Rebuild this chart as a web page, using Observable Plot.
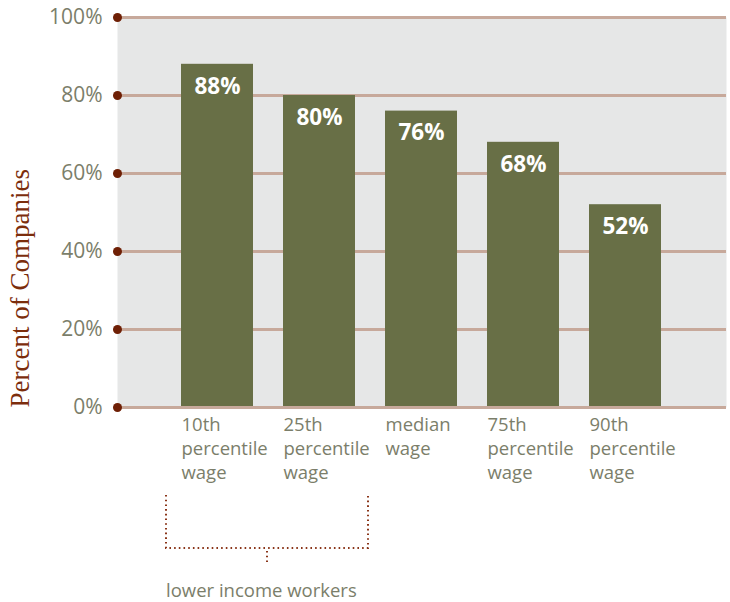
<!DOCTYPE html>
<html>
<head>
<meta charset="utf-8">
<script src="https://cdn.jsdelivr.net/npm/d3@7"></script>
<script src="https://cdn.jsdelivr.net/npm/@observablehq/plot@0.6"></script>
<style>
  html, body { margin: 0; padding: 0; background: #ffffff; }
  #chart svg { display: block; }
</style>
</head>
<body>
<div id="chart"></div>
<script>
const categories = ["10th percentile wage", "25th percentile wage", "median wage", "75th percentile wage", "90th percentile wage"];
const categoryLabels = ["10th\npercentile\nwage", "25th\npercentile\nwage", "median\nwage", "75th\npercentile\nwage", "90th\npercentile\nwage"];
const values = [88, 80, 76, 68, 52];
const yTicks = [0, 20, 40, 60, 80, 100];
const yTitle = "Percent of Companies";
const bracketLabel = "lower income workers";
const bracketCategories = ["10th percentile wage", "25th percentile wage"];

const data = categories.map((c, i) => ({category: c, value: values[i]}));
const labelOf = new Map(categories.map((c, i) => [c, categoryLabels[i]]));

const sans = "'Open Sans', Lato, sans-serif";
const tickColor = "#7b7e6a";
const barColor = "#686f46";
const gridColor = "#c7a99b";
const dotColor = "#6e1f05";

const plot = Plot.plot({
  width: 730,
  height: 602,
  marginTop: 17,
  marginBottom: 195,
  marginLeft: 117,
  marginRight: 4,
  style: {fontFamily: sans, background: "#ffffff"},
  x: {domain: categories, paddingInner: 0.29, paddingOuter: 0.61, align: 0.5},
  y: {domain: [0, 100]},
  marks: [
    Plot.frame({fill: "#e6e7e7", stroke: null}),
    Plot.ruleY(yTicks, {stroke: gridColor, strokeWidth: 3}),
    Plot.barY(data, {x: "category", y: "value", fill: barColor}),
    Plot.ruleY([0], {stroke: gridColor, strokeWidth: 3}),
    Plot.text(data, {x: "category", y: "value", text: d => d.value + "%", dy: 22, fill: "#ffffff", fontWeight: "bold", fontSize: 22.5, fontFamily: sans}),
    Plot.dot(yTicks, {y: d => d, frameAnchor: "left", r: 4.5, fill: dotColor, stroke: null}),
    Plot.axisY({ticks: yTicks, tickSize: 0, tickPadding: 15, tickFormat: d => d + "%", fontSize: 21, fill: tickColor, label: null}),
    Plot.axisX({tickSize: 0, tickPadding: 6, tickFormat: d => labelOf.get(d), fontSize: 18.5, fill: tickColor, textAnchor: "start", dx: -36, lineHeight: 1.3, label: null}),
    Plot.text([yTitle], {frameAnchor: "bottom-left", rotate: -90, textAnchor: "start", dx: -89, fontSize: 27, fill: "#7c2d0c", fontFamily: "'Liberation Serif', 'DejaVu Serif', serif"})
  ]
});

// Annotation bracket under the first two categories, positioned from the x scale
const xs = plot.scale("x");
const bw = xs.bandwidth;
const bLeft = xs.apply(bracketCategories[0]) - 15;
const bRight = xs.apply(bracketCategories[1]) + bw + 13;
const bTop = 495, bBottom = 548, bMid = (bLeft + bRight) / 2;
const svg = d3.select(plot);
const g = svg.append("g")
  .attr("fill", "none")
  .attr("stroke", "#8a3519")
  .attr("stroke-width", 2)
  .attr("stroke-dasharray", "1.6 3.1");
g.append("path").attr("d", `M${bLeft},${bTop}V${bBottom}H${bRight}V${bTop}`);
g.append("path").attr("d", `M${bMid},${bBottom + 3}V${bBottom + 17}`);
svg.append("text")
  .attr("x", bLeft)
  .attr("y", 597)
  .attr("text-anchor", "start")
  .attr("fill", tickColor)
  .attr("font-size", 18.5)
  .attr("font-family", sans)
  .text(bracketLabel);

document.getElementById("chart").appendChild(plot);
</script>
</body>
</html>
